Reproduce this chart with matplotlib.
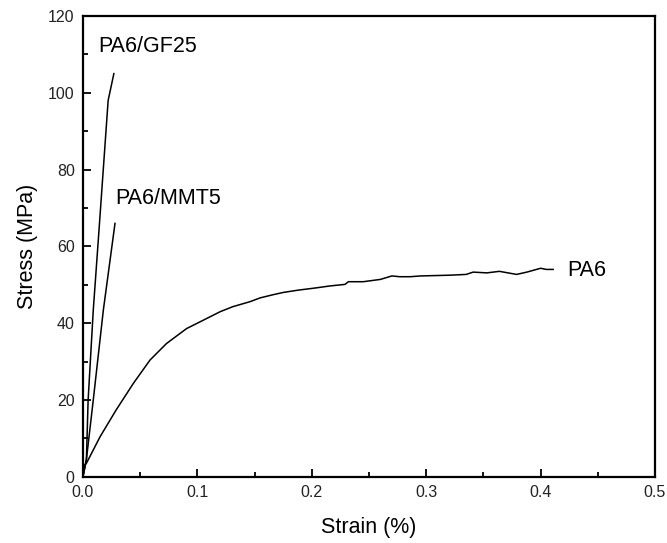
import numpy as np
import matplotlib
matplotlib.use('Agg')
from matplotlib import pyplot as plt
from matplotlib.ticker import MultipleLocator

plt.rcParams['font.family'] = ['Liberation Sans', 'DejaVu Sans']

# PA6 (neat) stress-strain curve
pa6_strain = [0.0, 0.001, 0.003, 0.0149, 0.029, 0.044, 0.0586, 0.073, 0.0906,
              0.108, 0.12, 0.131, 0.146, 0.155, 0.166, 0.175, 0.188, 0.204,
              0.216, 0.229, 0.232, 0.245, 0.26, 0.270, 0.277, 0.286, 0.295,
              0.321, 0.335, 0.341, 0.353, 0.364, 0.379, 0.388, 0.40, 0.405,
              0.411]
pa6_stress = [0.0, 3.0, 3.5, 10.4, 17.4, 24.3, 30.4, 34.7, 38.6,
              41.2, 43.0, 44.3, 45.6, 46.6, 47.4, 48.0, 48.6, 49.2,
              49.7, 50.1, 50.8, 50.8, 51.4, 52.3, 52.1, 52.1, 52.3,
              52.5, 52.7, 53.3, 53.1, 53.5, 52.7, 53.3, 54.3, 54.0,
              54.0]

# PA6/MMT5
mmt_strain = [0.0, 0.003, 0.009, 0.0178, 0.028]
mmt_stress = [0.0, 4.5, 20.0, 43.4, 66.0]

# PA6/GF25
gf_strain = [0.0, 0.003, 0.0045, 0.009, 0.014, 0.022, 0.027]
gf_stress = [0.0, 4.5, 20.0, 43.4, 64.2, 98.0, 105.0]

labels = ['PA6/GF25', 'PA6/MMT5', 'PA6']
label_x = [0.013, 0.028, 0.423]
label_y = [112, 72.5, 53.6]

fig = plt.figure(figsize=(6.67, 5.43), dpi=100)
ax = fig.add_axes([0.1244, 0.122, 0.8576, 0.8485])

ax.plot(pa6_strain, pa6_stress, color='black', lw=1.1)
ax.plot(mmt_strain, mmt_stress, color='black', lw=1.1)
ax.plot(gf_strain, gf_stress, color='black', lw=1.1)

for t, x, y in zip(labels, label_x, label_y):
    ax.text(x, y, t, fontsize=15.5, va='center', ha='left')

ax.set_xlim(0, 0.5)
ax.set_ylim(0, 120)
ax.xaxis.set_major_locator(MultipleLocator(0.1))
ax.xaxis.set_minor_locator(MultipleLocator(0.05))
ax.yaxis.set_major_locator(MultipleLocator(20))
ax.yaxis.set_minor_locator(MultipleLocator(10))
ax.xaxis.set_major_formatter(matplotlib.ticker.FormatStrFormatter('%.1f'))
ax.tick_params(which='both', direction='in', top=False, right=False,
               labelsize=11.5, width=1.3, pad=6, labelcolor='#222222')
ax.tick_params(which='major', length=6)
ax.tick_params(which='minor', length=3.5)
for s in ax.spines.values():
    s.set_linewidth(1.6)

ax.set_xlabel('Strain (%)', fontsize=15.5, labelpad=12)
ax.set_ylabel('Stress (MPa)', fontsize=15.5, labelpad=7.5)

plt.savefig('out.png', dpi=100)
